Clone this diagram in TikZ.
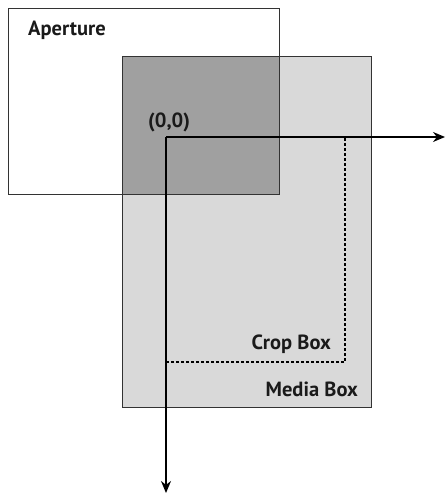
\documentclass[tikz,border=0pt]{standalone}
\usepackage{fontspec}
\setmainfont{PT Sans}
\usetikzlibrary{arrows.meta}
\definecolor{lightbox}{HTML}{D9D9D9}
\definecolor{darkbox}{HTML}{A0A0A0}
\definecolor{edge}{HTML}{333333}
\definecolor{labelc}{HTML}{1A1A1A}
\tikzset{
  boxnode/.style={draw=edge, line width=0.9pt, inner sep=0pt, outer sep=0pt, anchor=north west},
  lbl/.style={font=\bfseries\fontsize{20.5}{20.5}\selectfont, text=labelc, inner sep=0pt},
  axis/.style={line width=1.3pt, -{Stealth[length=12pt,width=10pt]}},
  cropline/.style={dashed, dash pattern=on 3pt off 2pt, line width=1.3pt}
}
\begin{document}
\begin{tikzpicture}[x=1pt,y=-1pt]
\useasboundingbox (0,0) rectangle (446,494);
% fills
\node (media) [boxnode, fill=lightbox, draw=none, minimum width=249pt, minimum height=351pt] at (122,56) {};
\node (aperture) [boxnode, fill=white, draw=none, minimum width=271pt, minimum height=186pt] at (8,8) {};
\node (overlap) [boxnode, fill=darkbox, draw=none, minimum width=157pt, minimum height=138pt] at (122,56) {};
% outlines
\draw[edge, line width=0.9pt] (media.north west) rectangle (media.south east);
\draw[edge, line width=0.9pt] (aperture.north west) rectangle (aperture.south east);
% crop box
\coordinate (origin) at (166,137);
\coordinate (cropTR) at (345,137);
\coordinate (cropBR) at (345,362);
\coordinate (cropBL) at (166,362);
\draw[cropline] (origin) -- (cropTR) -- (cropBR) -- (cropBL) -- cycle;
% axes
\coordinate (xend) at (445,137);
\coordinate (yend) at (166,493);
\draw[axis] (origin) -- (xend);
\draw[axis] (origin) -- (yend);
% labels
\node (aplabel) [lbl, anchor=base west] at (28,36) {Aperture};
\node (originlabel) [lbl, anchor=base west] at (148,128) {(0,0)};
\node (croplabel) [lbl, anchor=base east] at (331,349) {Crop Box};
\node (medialabel) [lbl, anchor=base east] at (358,396) {Media Box};
\end{tikzpicture}
\end{document}
